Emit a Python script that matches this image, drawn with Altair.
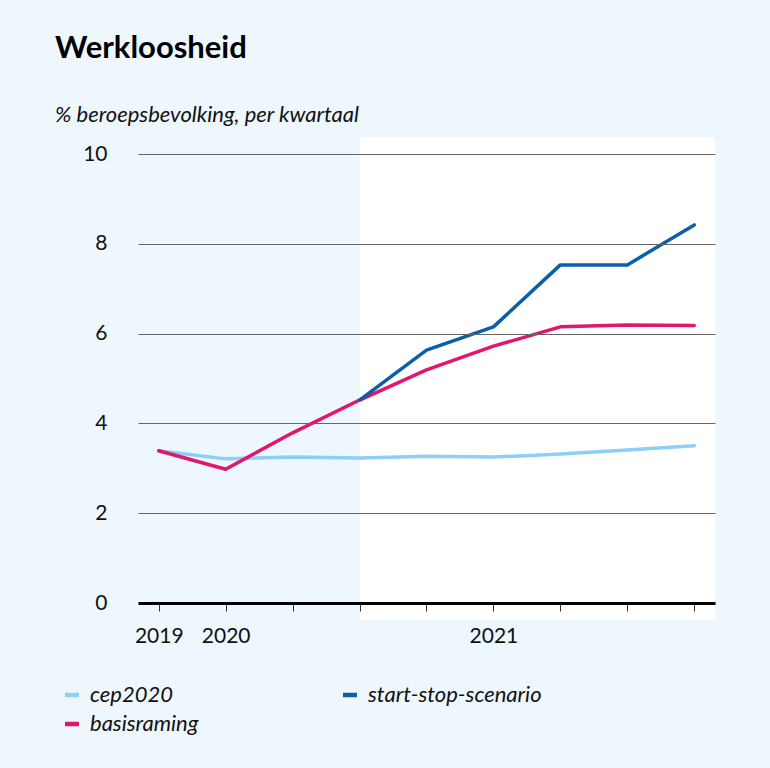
import altair as alt
import pandas as pd

quarters = [0, 1, 2, 3, 4, 5, 6, 7, 8]
x_labels = ["2019", "2020", "", "", "", "2021", "", "", ""]
cep2020 = [3.39, 3.21, 3.25, 3.23, 3.27, 3.25, 3.32, 3.41, 3.50]
basisraming = [3.39, 2.98, 3.79, 4.52, 5.19, 5.72, 6.15, 6.19, 6.18]
start_stop = [None, None, None, 4.52, 5.63, 6.15, 7.53, 7.53, 8.42]
series_names = ["cep2020", "start-stop-scenario", "basisraming"]
series_colors = ["#8dcff6", "#0b5fa9", "#e1166c"]
y_ticks = [0, 2, 4, 6, 8, 10]
forecast_start = 3

rows = []
for name, vals in [("cep2020", cep2020), ("basisraming", basisraming), ("start-stop-scenario", start_stop)]:
    for q, v in zip(quarters, vals):
        if v is not None:
            rows.append({"q": q, "v": v, "serie": name})
df = pd.DataFrame(rows)

x_dom = [-0.31, 8.31]
y_dom = [0, 10]
xscale = alt.Scale(domain=x_dom, nice=False, zero=False)
yscale = alt.Scale(domain=y_dom, nice=False)

label_expr = "[" + ",".join("'%s'" % s for s in x_labels) + "][datum.value]"

FONT = "Lato"

bg = pd.DataFrame({"x1": [forecast_start], "x2": [x_dom[1]], "y1": [-0.38], "y2": [10.38]})
rect = alt.Chart(bg).mark_rect(color="white").encode(
    x=alt.X("x1:Q", scale=xscale, axis=alt.Axis(
        values=quarters, labelExpr=label_expr, title=None, grid=False,
        domainColor="black", domainWidth=3, tickColor="#333", tickSize=8, tickWidth=1,
        labelFont=FONT, labelFontSize=21, labelColor="#111", labelPadding=14, zindex=1,
        labelFlush=False)),
    x2="x2:Q",
    y=alt.Y("y1:Q", scale=yscale, axis=alt.Axis(
        values=y_ticks, title=None, grid=True, gridColor="#666", gridWidth=1,
        domain=False, ticks=False, labelFont=FONT, labelFontSize=21, labelColor="#111",
        labelPadding=31, zindex=1)),
    y2="y2:Q",
)

lines = alt.Chart(df).mark_line(strokeWidth=3.5, strokeCap="round", strokeJoin="round").encode(
    x=alt.X("q:Q", scale=xscale),
    y=alt.Y("v:Q", scale=yscale),
    color=alt.Color("serie:N", scale=alt.Scale(domain=series_names, range=series_colors),
                    sort=series_names,
                    legend=alt.Legend(
                        title=None, orient="none", legendX=-77, legendY=530, columns=2,
                        direction="horizontal",
                        symbolType="stroke", symbolStrokeWidth=4.5, symbolSize=196,
                        labelFont=FONT, labelFontSize=22, labelFontStyle="italic",
                        labelColor="#111", labelOffset=7, columnPadding=135,
                        rowPadding=7, labelLimit=300)),
    order=alt.value(0),
)

chart = alt.layer(rect, lines).properties(
    width=577, height=449,
    autosize=alt.AutoSizeParams(type="none"),
    padding={"left": 138, "top": 154, "right": 55, "bottom": 165},
    background="#eef7fd",
    title=alt.TitleParams(
        text="Werkloosheid", subtitle="% beroepsbevolking, per kwartaal",
        anchor="start", frame="group", dx=-83, offset=10,
        font=FONT, fontSize=31, fontWeight="bold", color="#000",
        subtitleFont=FONT, subtitleFontSize=22, subtitleFontStyle="italic",
        subtitleColor="#111", subtitlePadding=40),
).configure_view(stroke=None)

chart.save("out.html", embed_options={"renderer": "svg", "actions": False})
